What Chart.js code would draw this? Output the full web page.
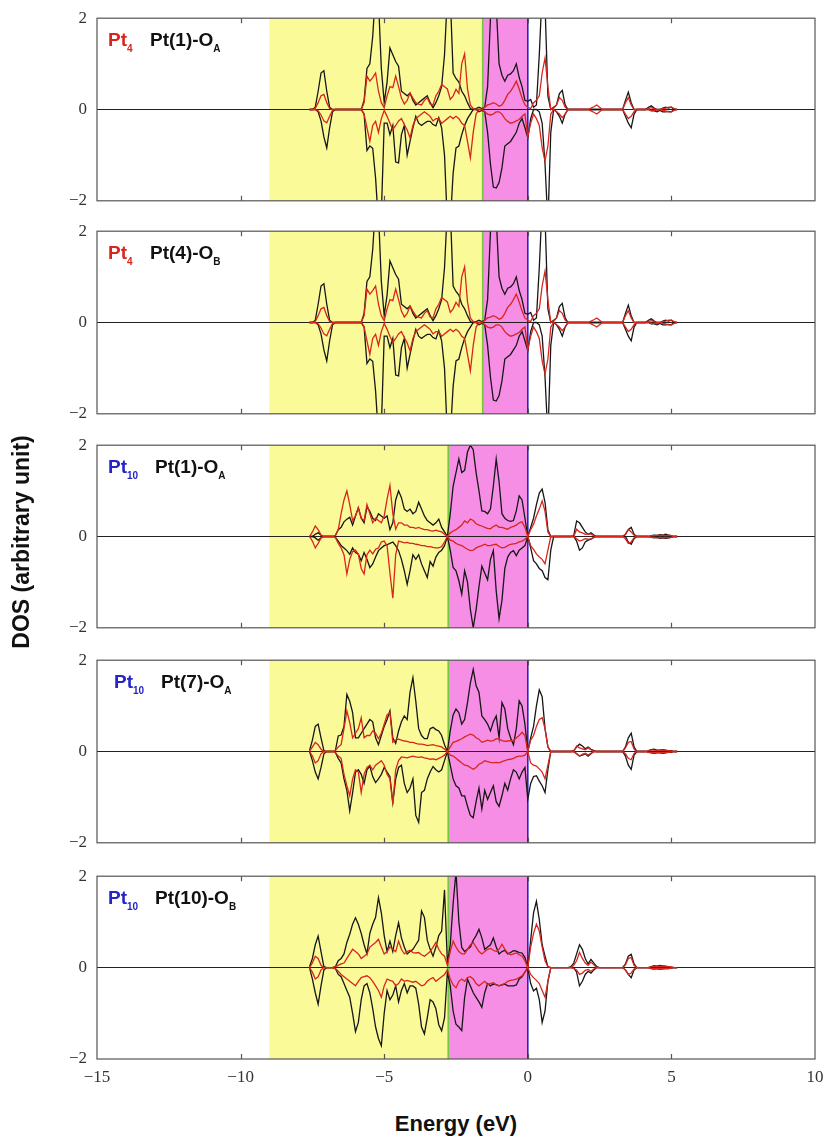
<!DOCTYPE html>
<html>
<head>
<meta charset="utf-8">
<title>DOS panels</title>
<script src="https://cdn.jsdelivr.net/npm/chart.js"></script>
<style>
  body { margin: 0; background: #fff; width: 828px; height: 1137px; position: relative; overflow: hidden; }
  canvas { position: absolute; left: 0; }
  .lbl { position: absolute; font-family: 'Liberation Sans', Arial, sans-serif; font-weight: bold;
         font-size: 19px; line-height: 20px; white-space: nowrap; color: #111; }
  .lbl sub { font-size: 10px; vertical-align: -6px; line-height: 0; }
  .red { color: #d8261d; }
  .blue { color: #2424c8; }
  .title { position: absolute; font-family: 'Liberation Sans', Arial, sans-serif; font-weight: bold;
           font-size: 22px; line-height: 26px; text-align: center; color: #111; white-space: nowrap; }
</style>
</head>
<body>
<canvas id="c0" width="828" height="223"></canvas>
<canvas id="c1" width="828" height="223"></canvas>
<canvas id="c2" width="828" height="223"></canvas>
<canvas id="c3" width="828" height="223"></canvas>
<canvas id="c4" width="828" height="243"></canvas>

<div class="lbl red" style="left:108px; top:30px">Pt<sub>4</sub></div>
<div class="lbl" style="left:150px; top:30px">Pt(1)-O<sub>A</sub></div>
<div class="lbl red" style="left:108px; top:243px">Pt<sub>4</sub></div>
<div class="lbl" style="left:150px; top:243px">Pt(4)-O<sub>B</sub></div>
<div class="lbl blue" style="left:108px; top:457px">Pt<sub>10</sub></div>
<div class="lbl" style="left:155px; top:457px">Pt(1)-O<sub>A</sub></div>
<div class="lbl blue" style="left:114px; top:672px">Pt<sub>10</sub></div>
<div class="lbl" style="left:161px; top:672px">Pt(7)-O<sub>A</sub></div>
<div class="lbl blue" style="left:108px; top:888px">Pt<sub>10</sub></div>
<div class="lbl" style="left:155px; top:888px">Pt(10)-O<sub>B</sub></div>

<div class="title" style="left:-129px; top:529px; width:300px; font-size:23px; transform:rotate(-90deg)">DOS (arbitrary unit)</div>
<div class="title" style="left:306px; top:1111px; width:300px">Energy (eV)</div>

<script>
// energy grid (eV) shared by every curve
const energy = [
  -7.6,-7.5,-7.4,-7.3,-7.2,-7.1,-7.0,-6.9,-6.8,-6.7,
  -6.6,-6.5,-6.4,-6.3,-6.2,-6.1,-6.0,-5.9,-5.8,-5.7,
  -5.6,-5.5,-5.4,-5.3,-5.2,-5.1,-5.0,-4.9,-4.8,-4.7,
  -4.6,-4.5,-4.4,-4.3,-4.2,-4.1,-4.0,-3.9,-3.8,-3.7,
  -3.6,-3.5,-3.4,-3.3,-3.2,-3.1,-3.0,-2.9,-2.8,-2.7,
  -2.6,-2.5,-2.4,-2.3,-2.2,-2.1,-2.0,-1.9,-1.8,-1.7,
  -1.6,-1.5,-1.4,-1.3,-1.2,-1.1,-1.0,-0.9,-0.8,-0.7,
  -0.6,-0.5,-0.4,-0.3,-0.2,-0.1,0.0,0.1,0.2,0.3,
  0.4,0.5,0.6,0.7,0.8,0.9,1.0,1.1,1.2,1.3,
  1.4,1.5,1.6,1.7,1.8,1.9,2.0,2.1,2.2,2.3,
  2.4,2.5,2.6,2.7,2.8,2.9,3.0,3.1,3.2,3.3,
  3.4,3.5,3.6,3.7,3.8,3.9,4.0,4.1,4.2,4.3,
  4.4,4.5,4.6,4.7,4.8,4.9,5.0,5.1,5.2
];

// Pt4 (panels 1 and 2)
const pt4BlackUp = [
  0,0,0.05,0.4,0.8,0.85,0.4,0.05,0,0,
  0,0,0,0,0,0,0,0,0,0.2,
  0.9,1.0,1.6,2.6,2.4,0.9,0.15,0.6,1.35,1.2,
  1.05,0.95,0.4,0.35,0.3,0.36,0.2,0.1,0.15,0.2,
  0.25,0.3,0.15,0.04,0.15,0.3,0.5,1.2,2.5,2.5,
  0.8,0.68,0.6,0.4,0.3,0.15,0.02,0,0.02,0.05,
  0.02,0.05,0.5,2.0,2.6,2.3,1.0,0.75,0.62,0.75,
  0.78,0.85,1.0,0.7,0.5,0.2,0.18,0.22,0.05,0.1,
  1.2,2.6,2.3,0.3,0,0.05,0.1,0.35,0.42,0.1,
  0,0,0,0,0,0,0,0,0,0,
  0,0,0,0,0,0,0,0,0,0,
  0.2,0.38,0.15,0,0,0,0,0,0.05,0.08,
  0.03,0,0,0.03,0.05,0.03,0.05,0,0
];
const pt4BlackDown = [
  0,0,0,-0.05,-0.25,-0.6,-0.84,-0.4,-0.05,0,
  0,0,0,0,0,0,0,0,0,-0.1,
  -0.9,-0.8,-0.85,-1.5,-2.5,-2.3,-0.3,-0.3,-0.55,-0.35,
  -1.15,-1.17,-0.55,-0.35,-1.0,-0.7,-0.4,-0.15,-0.3,-0.35,
  -0.3,-0.26,-0.26,-0.33,-0.36,-0.18,-0.4,-1.0,-2.5,-2.5,
  -1.4,-0.84,-0.8,-0.55,-0.35,-0.2,-0.1,0,0,-0.05,
  -0.02,-0.05,-0.5,-1.2,-1.7,-1.72,-1.6,-1.28,-0.8,-0.75,
  -0.7,-0.6,-0.5,-0.3,-0.2,-0.4,-0.62,-0.2,0,0,
  -0.05,-0.3,-1.2,-2.5,-0.5,0,-0.05,-0.15,-0.3,-0.1,
  0,0,0,0,0,0,0,0,0,0,
  0,0,0,0,0,0,0,0,0,0,
  -0.15,-0.3,-0.4,-0.1,0,0,0,0,0,-0.03,
  -0.03,-0.05,-0.02,-0.05,-0.05,-0.04,-0.05,0,0
];
const pt4RedUp = [
  0,0,0.02,0.15,0.3,0.33,0.15,0.02,0,0,
  0,0,0,0,0,0,0,0,0,0.15,
  0.73,0.62,0.7,0.8,0.4,0.15,0.04,0.3,0.5,0.48,
  0.73,0.5,0.25,0.12,0.2,0.36,0.25,0.15,0.12,0.1,
  0.2,0.26,0.12,0.1,0.3,0.4,0.55,0.5,0.45,0.22,
  0.3,0.44,0.35,1.0,1.22,0.45,0.1,0.02,0,0,
  0,0.05,0.1,0.12,0.15,0.12,0.07,0.1,0.2,0.33,
  0.4,0.5,0.62,0.45,0.25,0.1,0.05,0.02,0.15,0.2,
  0.3,0.8,1.13,0.5,0,0.03,0.1,0.26,0.2,0.05,
  0,0,0,0,0,0,0,0,0.03,0.06,
  0.1,0.05,0,0,0,0,0,0,0,0,
  0.15,0.26,0.1,0,0,0,0,0,0.02,0.04,
  0.02,0,0,0.02,0.03,0.05,0.05,0.02,0
];
const pt4RedDown = [
  0,0,0,-0.03,-0.12,-0.25,-0.29,-0.15,-0.02,0,
  0,0,0,0,0,0,0,0,0,-0.1,
  -0.4,-0.7,-0.35,-0.26,-0.5,-0.2,-0.02,-0.15,-0.3,-0.44,
  -0.35,-0.25,-0.2,-0.33,-0.45,-0.62,-0.35,-0.2,-0.15,-0.1,
  -0.05,-0.1,-0.15,-0.25,-0.2,-0.2,-0.3,-0.25,-0.2,-0.15,
  -0.2,-0.15,-0.2,-0.3,-0.35,-0.7,-1.06,-0.5,-0.1,0,
  0,-0.05,-0.1,-0.12,-0.1,-0.05,-0.05,-0.1,-0.2,-0.26,
  -0.3,-0.28,-0.25,-0.22,-0.15,-0.1,-0.6,-0.3,-0.1,-0.2,
  -0.35,-0.84,-1.13,-0.8,-0.1,0,-0.05,-0.1,-0.18,-0.1,
  0,0,0,0,0,0,0,0,-0.03,-0.06,
  -0.1,-0.05,0,0,0,0,0,0,0,0,
  -0.1,-0.2,-0.15,-0.05,0,0,0,0,0,-0.02,
  -0.02,-0.03,0,-0.02,-0.03,-0.05,-0.05,-0.02,0
];

// Pt10, Pt(1)-OA
const pt10aBlackUp = [
  0,0,0.05,0.08,0.03,0,0,0,0,0.02,
  0.15,0.2,0.32,0.38,0.42,0.25,0.45,0.63,0.4,0.3,
  0.65,0.55,0.4,0.35,0.5,0.45,0.4,0.45,0.15,0.3,
  0.8,1.0,0.85,0.6,0.55,0.6,0.5,0.55,0.75,0.6,
  0.45,0.35,0.3,0.25,0.3,0.38,0.2,0.1,0,0.5,
  1.1,1.4,1.7,1.4,1.45,1.85,2.0,1.9,1.4,1.0,
  0.56,0.55,0.5,0.6,1.1,1.7,1.2,0.5,0.4,0.35,
  0.33,0.35,0.56,0.89,0.8,0.4,0,0.2,0.4,0.7,
  0.95,1.04,0.75,0.15,0,0,0,0,0,0,
  0,0,0.02,0.34,0.3,0.2,0.1,0.05,0.08,0.03,
  0,0,0,0,0,0,0,0,0,0,
  0.05,0.15,0.2,0.05,0,0,0,0,0,0.02,
  0.03,0.02,0.04,0.03,0.05,0.03,0.02,0,0
];
const pt10aBlackDown = [
  0,0,-0.03,-0.08,-0.03,0,0,0,0,-0.02,
  -0.1,-0.2,-0.25,-0.31,-0.39,-0.25,-0.35,-0.39,-0.53,-0.35,
  -0.5,-0.68,-0.6,-0.45,-0.31,-0.25,-0.2,-0.18,-0.15,-0.12,
  -0.2,-0.31,-0.5,-0.75,-1.05,-0.75,-0.4,-0.5,-0.4,-0.6,
  -0.75,-0.9,-0.55,-0.65,-0.45,-0.35,-0.3,-0.2,0,-0.3,
  -0.68,-0.75,-0.97,-1.26,-0.75,-1.0,-1.6,-2.0,-1.6,-1.1,
  -0.65,-0.8,-0.95,-0.5,-0.31,-1.19,-1.8,-1.4,-0.7,-0.45,
  -0.35,-0.31,-0.42,-0.3,-0.25,-0.2,0,-0.25,-0.53,-0.6,
  -0.7,-0.75,-0.9,-0.95,-0.3,0,0,0,0,0,
  0,0,0,-0.1,-0.3,-0.25,-0.12,-0.08,-0.06,-0.02,
  0,0,0,0,0,0,0,0,0,0,
  0,-0.12,-0.17,-0.05,0,0,0,0,0,-0.02,
  -0.03,-0.02,-0.04,-0.03,-0.04,-0.03,-0.02,0,0
];
const pt10aRedUp = [
  0,0.1,0.23,0.15,0.03,0,0,0,0,0.02,
  0.15,0.5,0.8,1.0,0.7,0.35,0.45,0.63,0.4,0.35,
  0.7,0.5,0.3,0.4,0.35,0.3,0.45,0.82,1.12,0.5,
  0.16,0.3,0.3,0.25,0.25,0.2,0.2,0.18,0.2,0.17,
  0.15,0.15,0.13,0.12,0.14,0.12,0.1,0.05,0,0.08,
  0.12,0.15,0.2,0.25,0.34,0.3,0.38,0.35,0.28,0.25,
  0.23,0.2,0.18,0.17,0.22,0.25,0.2,0.2,0.18,0.16,
  0.2,0.22,0.25,0.3,0.32,0.2,0,0.15,0.27,0.45,
  0.6,0.78,0.55,0.1,0,0,0,0,0,0,
  0,0,0,0.16,0.1,0.08,0.05,0.06,0.05,0.02,
  0,0,0,0,0,0,0,0,0,0,
  0.05,0.16,0.1,0.03,0,0,0,0,0,0.02,
  0.02,0.03,0.02,0.03,0.02,0.03,0.02,0,0
];
const pt10aRedDown = [
  0,-0.1,-0.25,-0.15,-0.03,0,0,0,0,-0.02,
  -0.15,-0.25,-0.4,-0.82,-0.5,-0.33,-0.3,-0.39,-0.7,-0.82,
  -0.4,-0.3,-0.38,-0.28,-0.25,-0.12,-0.1,-0.2,-0.8,-1.35,
  -0.4,-0.1,-0.12,-0.14,-0.13,-0.15,-0.15,-0.17,-0.18,-0.2,
  -0.2,-0.22,-0.22,-0.24,-0.25,-0.25,-0.22,-0.12,0,-0.08,
  -0.1,-0.15,-0.18,-0.2,-0.24,-0.28,-0.31,-0.3,-0.25,-0.22,
  -0.2,-0.17,-0.2,-0.2,-0.18,-0.17,-0.22,-0.25,-0.24,-0.2,
  -0.17,-0.16,-0.15,-0.12,-0.1,-0.06,0,-0.2,-0.28,-0.38,
  -0.45,-0.5,-0.6,-0.3,0,0,0,0,0,0,
  0,0,0,-0.05,-0.1,-0.08,-0.05,-0.06,-0.05,-0.02,
  0,0,0,0,0,0,0,0,0,0,
  -0.05,-0.15,-0.12,-0.03,0,0,0,0,0,-0.02,
  -0.02,-0.03,-0.02,-0.03,-0.02,-0.03,-0.02,0,0
];

// Pt10, Pt(7)-OA
const pt10bBlackUp = [
  0.02,0.25,0.55,0.6,0.3,0.02,0,0,0,0.02,
  0.34,0.36,0.55,1.25,1.1,0.85,0.3,0.3,0.4,0.5,
  0.6,0.7,0.65,0.3,0.15,0.35,0.55,0.7,0.89,0.3,
  0.18,0.45,0.65,0.78,0.7,1.3,1.62,1.1,0.5,0.35,
  0.28,0.28,0.5,0.53,0.48,0.45,0.35,0.15,0,0.45,
  0.8,0.93,0.85,0.6,0.7,1.07,1.5,1.8,1.44,1.3,
  0.78,0.7,0.6,0.45,0.65,0.78,0.3,1.07,0.93,0.5,
  0.3,0.15,0.5,1.11,1.0,0.6,0,0.3,0.55,1.0,
  1.35,1.2,0.5,0.1,0,0,0,0,0,0,
  0,0,0.02,0.1,0.16,0.12,0.06,0.1,0.05,0.02,
  0,0,0,0,0,0,0,0,0,0,
  0.1,0.3,0.4,0.1,0,0,0,0,0.02,0.04,
  0.05,0.03,0.03,0.04,0.03,0.02,0.02,0,0
];
const pt10bBlackDown = [
  0,-0.2,-0.45,-0.6,-0.35,-0.05,0,0,0,-0.02,
  -0.15,-0.25,-0.6,-0.85,-1.3,-0.9,-0.45,-0.4,-0.5,-0.7,
  -0.4,-0.32,-0.55,-0.68,-0.6,-0.5,-0.35,-0.45,-0.55,-1.12,
  -0.6,-0.35,-0.3,-0.7,-0.9,-0.8,-0.6,-1.4,-1.55,-0.9,
  -0.85,-0.6,-0.45,-0.33,-0.4,-0.45,-0.4,-0.2,0,-0.3,
  -0.6,-0.75,-0.8,-0.97,-0.97,-1.2,-1.4,-1.45,-1.1,-0.8,
  -1.26,-0.85,-1.05,-0.9,-0.75,-1.1,-1.2,-0.97,-0.7,-0.85,
  -0.6,-0.4,-0.45,-0.6,-0.45,-0.35,-1.05,-0.7,-0.55,-0.53,
  -0.65,-0.75,-0.9,-0.4,0,0,0,0,0,0,
  0,0,0,-0.05,-0.1,-0.08,-0.05,-0.1,-0.05,0,
  0,0,0,0,0,0,0,0,0,0,
  -0.1,-0.3,-0.39,-0.08,0,0,0,0,-0.02,-0.03,
  -0.04,-0.03,-0.03,-0.04,-0.03,-0.02,-0.02,0,0
];
const pt10bRedUp = [
  0,0.1,0.2,0.15,0.05,0,0,0,0,0.02,
  0.1,0.15,0.5,0.89,0.63,0.3,0.4,0.5,0.74,0.3,
  0.35,0.35,0.45,0.4,0.28,0.4,0.6,0.8,0.85,0.2,
  0.25,0.27,0.25,0.23,0.22,0.2,0.2,0.18,0.16,0.16,
  0.15,0.13,0.14,0.15,0.13,0.12,0.1,0.05,0,0.1,
  0.2,0.22,0.25,0.28,0.32,0.35,0.38,0.36,0.3,0.27,
  0.2,0.22,0.25,0.23,0.24,0.28,0.27,0.24,0.22,0.23,
  0.24,0.23,0.3,0.35,0.42,0.35,0,0.25,0.35,0.55,
  0.7,0.74,0.5,0.1,0,0,0,0,0,0,
  0,0,0,0.12,0.08,0.06,0.04,0.08,0.04,0,
  0,0,0,0,0,0,0,0,0,0,
  0.08,0.2,0.22,0.05,0,0,0,0,0.02,0.03,
  0.03,0.02,0.03,0.03,0.02,0.02,0.01,0,0
];
const pt10bRedDown = [
  0,-0.1,-0.25,-0.2,-0.05,0,0,0,0,-0.02,
  -0.1,-0.15,-0.5,-0.75,-0.97,-0.6,-0.4,-0.45,-0.9,-0.5,
  -0.35,-0.3,-0.4,-0.3,-0.25,-0.2,-0.3,-0.5,-0.6,-1.15,
  -0.4,-0.2,-0.12,-0.13,-0.14,-0.12,-0.1,-0.12,-0.13,-0.12,
  -0.14,-0.15,-0.17,-0.16,-0.18,-0.15,-0.12,-0.08,0,-0.08,
  -0.1,-0.15,-0.2,-0.25,-0.3,-0.31,-0.35,-0.39,-0.35,-0.28,
  -0.25,-0.2,-0.22,-0.24,-0.25,-0.24,-0.25,-0.22,-0.2,-0.18,
  -0.17,-0.15,-0.12,-0.1,-0.1,-0.08,0,-0.25,-0.3,-0.32,
  -0.38,-0.45,-0.6,-0.3,0,0,0,0,0,0,
  0,0,0,-0.05,-0.1,-0.06,-0.04,-0.08,-0.04,0,
  0,0,0,0,0,0,0,0,0,0,
  -0.05,-0.15,-0.18,-0.04,0,0,0,0,-0.02,-0.02,
  -0.03,-0.02,-0.02,-0.03,-0.02,-0.02,-0.01,0,0
];

// Pt10, Pt(10)-OB
const pt10cBlackUp = [
  0.02,0.2,0.5,0.69,0.35,0.02,0,0,0,0.02,
  0.15,0.2,0.3,0.55,0.73,0.95,1.09,0.95,0.75,0.5,
  0.3,0.75,0.95,1.1,1.53,1.2,0.7,0.35,0.58,0.35,
  0.7,0.98,0.65,0.45,0.3,0.35,0.4,0.5,0.6,1.24,
  1.1,0.6,0.4,0.25,0.45,0.7,0.8,1.7,0.1,0.5,
  1.4,2.1,1.0,0.44,0.35,0.4,0.45,0.6,0.7,0.84,
  0.65,0.4,0.45,0.5,0.65,0.45,0.3,0.35,0.38,0.3,
  0.33,0.37,0.36,0.33,0.32,0.22,0,0.6,1.2,1.45,
  1.05,0.5,0.25,0.02,0,0,0,0,0,0,
  0,0.02,0.1,0.3,0.5,0.4,0.2,0.08,0.18,0.1,
  0.02,0,0,0,0,0,0,0,0,0,
  0.08,0.25,0.29,0.08,0,0,0,0,0,0.02,
  0.04,0.03,0.05,0.04,0.03,0.02,0.01,0,0
];
const pt10cBlackDown = [
  0,-0.25,-0.55,-0.8,-0.4,-0.05,0,0,0,-0.02,
  -0.15,-0.2,-0.35,-0.5,-0.65,-1.0,-1.4,-1.2,-0.7,-0.4,
  -0.35,-0.55,-0.9,-1.3,-1.55,-1.71,-1.0,-0.5,-0.7,-0.6,
  -0.4,-0.75,-0.5,-0.35,-0.55,-0.4,-0.4,-0.45,-0.8,-1.3,
  -1.45,-1.1,-0.7,-0.75,-0.9,-1.25,-1.38,-1.1,-0.1,-0.4,
  -0.95,-1.24,-1.3,-1.38,-0.65,-0.25,-0.4,-0.55,-0.65,-0.75,
  -0.87,-0.55,-0.35,-0.4,-0.36,-0.37,-0.4,-0.38,-0.36,-0.4,
  -0.4,-0.4,-0.38,-0.25,-0.2,-0.1,0,-0.35,-0.51,-0.45,
  -0.7,-1.2,-0.95,-0.3,0,0,0,0,0,0,
  0,0,0,-0.1,-0.4,-0.3,-0.15,-0.08,-0.12,-0.05,
  0,0,0,0,0,0,0,0,0,0,
  -0.05,-0.15,-0.22,-0.05,0,0,0,0,0,-0.02,
  -0.03,-0.02,-0.04,-0.03,-0.02,-0.02,-0.01,0,0
];
const pt10cRedUp = [
  0,0.1,0.25,0.2,0.05,0,0,0,0,0.02,
  0.05,0.08,0.1,0.2,0.3,0.4,0.35,0.3,0.2,0.25,
  0.3,0.45,0.5,0.55,0.62,0.45,0.3,0.35,0.45,0.4,
  0.35,0.58,0.4,0.3,0.35,0.38,0.33,0.32,0.33,0.28,
  0.25,0.3,0.35,0.45,0.55,0.4,0.3,0.25,0.05,0.35,
  0.58,0.45,0.35,0.3,0.3,0.4,0.5,0.55,0.45,0.35,
  0.3,0.35,0.4,0.42,0.38,0.35,0.4,0.51,0.4,0.32,
  0.28,0.3,0.32,0.28,0.25,0.15,0,0.45,0.75,0.95,
  0.8,0.45,0.15,0.02,0,0,0,0,0,0,
  0,0,0.05,0.15,0.33,0.2,0.1,0.05,0.12,0.06,
  0,0,0,0,0,0,0,0,0,0,
  0.06,0.2,0.22,0.05,0,0,0,0,0,0.02,
  0.03,0.02,0.03,0.03,0.02,0.02,0.01,0,0
];
const pt10cRedDown = [
  0,-0.1,-0.25,-0.2,-0.05,0,0,0,0,-0.02,
  -0.08,-0.15,-0.2,-0.25,-0.3,-0.35,-0.4,-0.3,-0.22,-0.2,
  -0.18,-0.22,-0.3,-0.4,-0.5,-0.65,-0.4,-0.25,-0.28,-0.3,
  -0.4,-0.35,-0.25,-0.3,-0.28,-0.3,-0.32,-0.3,-0.35,-0.4,
  -0.38,-0.3,-0.25,-0.22,-0.3,-0.25,-0.2,-0.15,-0.05,-0.25,
  -0.38,-0.44,-0.3,-0.25,-0.3,-0.22,-0.2,-0.25,-0.35,-0.4,
  -0.35,-0.3,-0.37,-0.35,-0.33,-0.38,-0.4,-0.37,-0.35,-0.3,
  -0.28,-0.27,-0.25,-0.22,-0.18,-0.1,0,-0.15,-0.22,-0.28,
  -0.35,-0.5,-0.65,-0.3,0,0,0,0,0,0,
  0,0,-0.02,-0.05,-0.15,-0.12,-0.06,-0.04,-0.08,-0.03,
  0,0,0,0,0,0,0,0,0,0,
  -0.05,-0.15,-0.12,-0.03,0,0,0,0,0,-0.02,
  -0.02,-0.02,-0.03,-0.02,-0.02,-0.02,-0.01,0,0
];

// shaded bands: yellow from bandStart to split, magenta from split to the Fermi level
const bandStart = -9;
const fermiLevel = 0;
const splitEnergy = [-1.57, -1.57, -2.77, -2.77, -2.77];

// where each panel's plot box sits on the page
const panelTops = [18, 231, 445, 660, 876];

const panelSeries = [
  [pt4BlackUp, pt4BlackDown, pt4RedUp, pt4RedDown],
  [pt4BlackUp, pt4BlackDown, pt4RedUp, pt4RedDown],
  [pt10aBlackUp, pt10aBlackDown, pt10aRedUp, pt10aRedDown],
  [pt10bBlackUp, pt10bBlackDown, pt10bRedUp, pt10bRedDown],
  [pt10cBlackUp, pt10cBlackDown, pt10cRedUp, pt10cRedDown]
];

const RED = '#d8261d';
const BLACK = '#161616';
const TICK_FONT = { family: "'Liberation Serif', 'Times New Roman', serif", size: 17 };

panelSeries.forEach(s => s.forEach(a => {
  if (a.length !== energy.length) console.error('length mismatch', a.length);
}));

const minus = v => (v < 0 ? '\u2212' + Math.abs(v) : String(v));

const deco = {
  id: 'deco',
  beforeDraw(chart, args, opts) {
    const { ctx, chartArea: a, scales: { x } } = chart;
    const x0 = x.getPixelForValue(bandStart);
    const xs = x.getPixelForValue(opts.split);
    const xf = x.getPixelForValue(fermiLevel);
    ctx.save();
    ctx.fillStyle = '#fafa98';
    ctx.fillRect(x0, a.top, xs - x0, a.bottom - a.top);
    ctx.fillStyle = '#f68ee6';
    ctx.fillRect(xs, a.top, xf - xs, a.bottom - a.top);
    ctx.lineWidth = 1.6;
    ctx.strokeStyle = '#72c83e';
    ctx.beginPath(); ctx.moveTo(xs, a.top); ctx.lineTo(xs, a.bottom); ctx.stroke();
    ctx.strokeStyle = '#2424c8';
    ctx.beginPath(); ctx.moveTo(xf, a.top); ctx.lineTo(xf, a.bottom); ctx.stroke();
    ctx.restore();
  },
  afterDraw(chart) {
    const { ctx, chartArea: a, scales: { x } } = chart;
    ctx.save();
    ctx.strokeStyle = '#555';
    ctx.lineWidth = 1.2;
    ctx.strokeRect(a.left, a.top, a.right - a.left, a.bottom - a.top);
    ctx.beginPath();
    x.ticks.forEach(t => {
      if (t.value <= x.min || t.value >= x.max) return;
      const px = Math.round(x.getPixelForValue(t.value)) + 0.5;
      ctx.moveTo(px, a.top); ctx.lineTo(px, a.top + 5);
      ctx.moveTo(px, a.bottom); ctx.lineTo(px, a.bottom - 5);
    });
    ctx.stroke();
    ctx.restore();
  }
};

const line = (vals, color) => ({
  data: energy.map((e, i) => ({ x: e, y: vals[i] })),
  borderColor: color,
  borderWidth: 1.3,
  pointRadius: 0,
  tension: 0,
  fill: false
});

panelSeries.forEach((s, i) => {
  const last = i === panelSeries.length - 1;
  const canvas = document.getElementById('c' + i);
  const chart = new Chart(canvas, {
    type: 'line',
    data: {
      // first dataset is drawn on top, so the red curves go first
      datasets: [line(s[2], RED), line(s[3], RED), line(s[0], BLACK), line(s[1], BLACK)]
    },
    options: {
      responsive: false,
      animation: false,
      layout: { padding: { top: 0, bottom: 0, left: 0, right: 13 } },
      plugins: {
        legend: { display: false },
        tooltip: { enabled: false },
        deco: { split: splitEnergy[i] }
      },
      scales: {
        x: {
          type: 'linear',
          min: -15,
          max: 10,
          display: last,
          // invisible tick marks give the gap under the axis, so no label padding is needed
          grid: { display: true, drawOnChartArea: false, drawTicks: true, tickLength: 8, color: 'rgba(0,0,0,0)' },
          border: { display: false },
          ticks: { stepSize: 5, padding: 0, color: '#333', font: TICK_FONT, callback: v => minus(v) },
          afterFit: sc => { sc.height = last ? 40 : 0; }
        },
        y: {
          min: -2,
          max: 2,
          grid: {
            drawTicks: false,
            lineWidth: 1,
            color: c => (c.tick && c.tick.value === 0 ? '#222' : 'rgba(0,0,0,0)')
          },
          border: { display: false },
          ticks: { stepSize: 2, padding: 10, color: '#333', font: TICK_FONT, callback: v => minus(v) },
          afterFit: sc => { sc.width = 97; }
        }
      }
    },
    plugins: [deco]
  });
  // line the plot box up with its place on the page
  canvas.style.top = Math.round(panelTops[i] - chart.chartArea.top) + 'px';
});
</script>
</body>
</html>
